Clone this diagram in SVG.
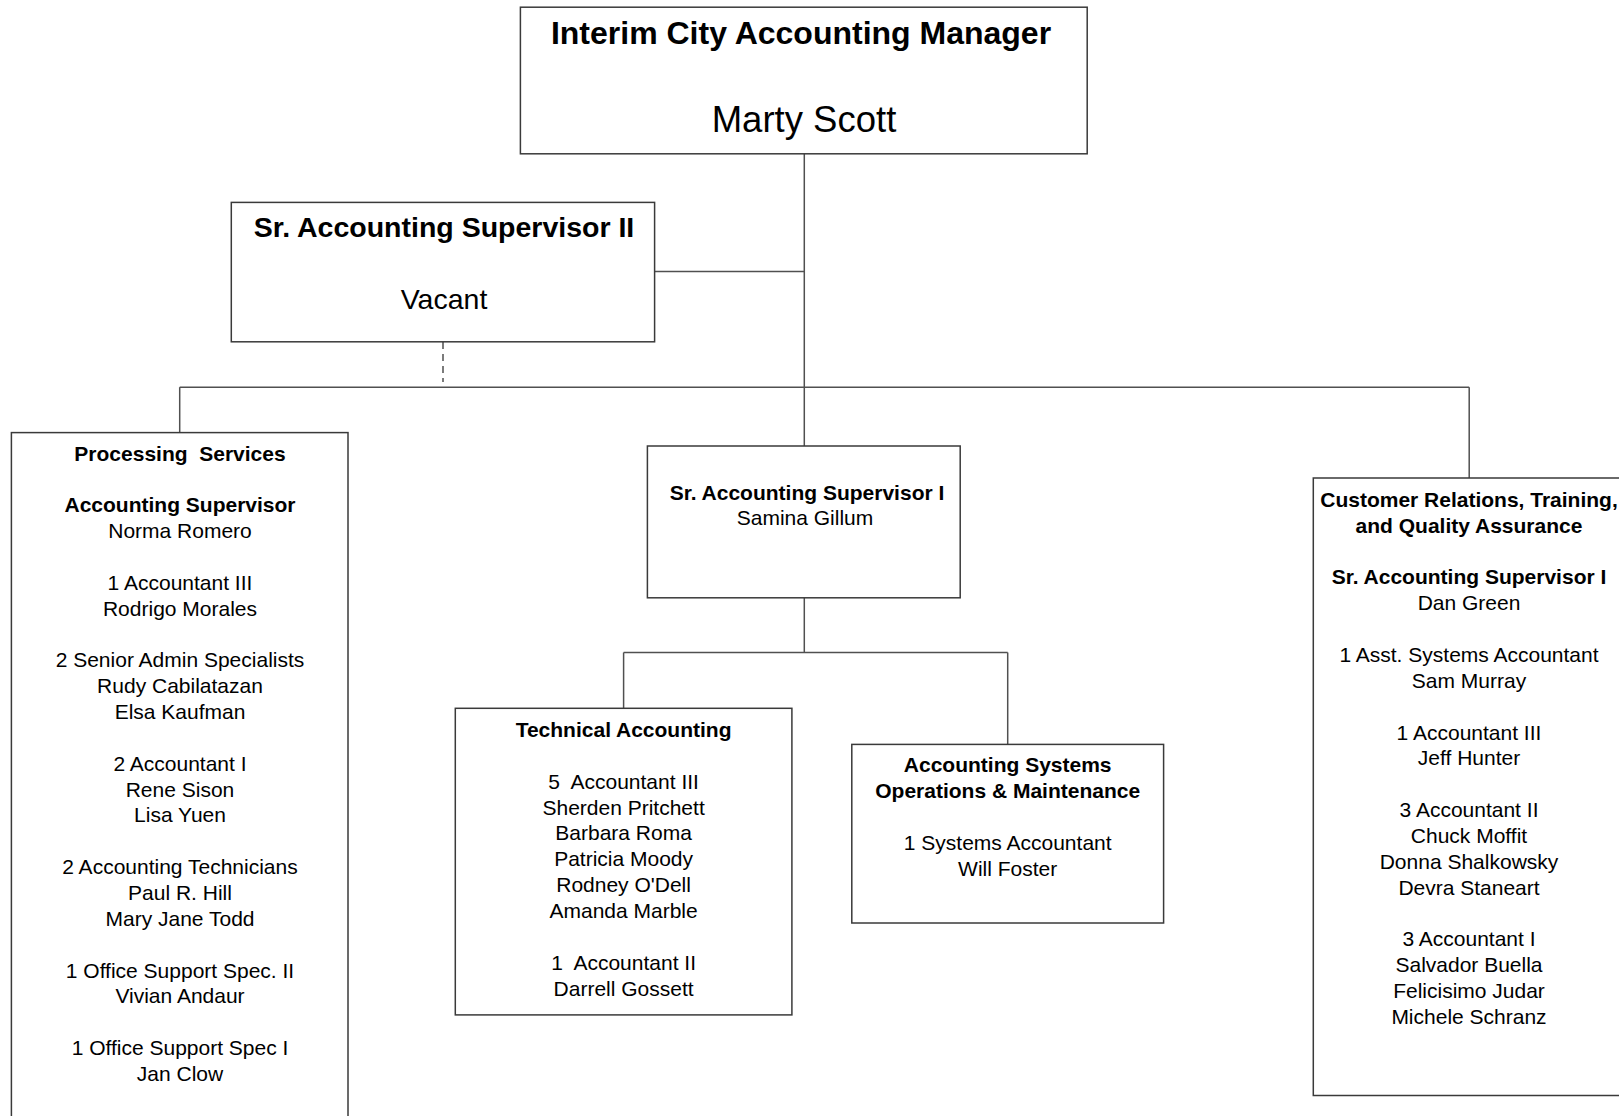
<svg xmlns="http://www.w3.org/2000/svg" width="1619" height="1116" viewBox="0 0 1619 1116">
<style>
.box{fill:#fff;stroke:#3a3a3a;stroke-width:1.5}
.con{fill:none;stroke:#505050;stroke-width:1.5}
.dash{stroke-dasharray:7 5}
text{font-family:"Liberation Sans",Arial,sans-serif;fill:#000;text-anchor:middle}
.s{font-size:21px}
.b{font-weight:bold}
.big{font-size:28.5px}
.huge{font-size:32px;font-weight:bold}
.name{font-size:36.5px}
</style>
<rect width="1619" height="1116" fill="#fff"/>
<g id="connectors">
<line class="con" x1="804.3" y1="153.8" x2="804.3" y2="446"/>
<line class="con" x1="654.6" y1="271.5" x2="804.3" y2="271.5"/>
<line class="con dash" x1="443" y1="342" x2="443" y2="382"/>
<line class="con" x1="179.7" y1="387.2" x2="1469.2" y2="387.2"/>
<line class="con" x1="179.7" y1="387.2" x2="179.7" y2="432.6"/>
<line class="con" x1="1469.2" y1="387.2" x2="1469.2" y2="478"/>
<line class="con" x1="804.3" y1="597.8" x2="804.3" y2="652.5"/>
<line class="con" x1="623.6" y1="652.5" x2="1007.7" y2="652.5"/>
<line class="con" x1="623.6" y1="652.5" x2="623.6" y2="708.3"/>
<line class="con" x1="1007.7" y1="652.5" x2="1007.7" y2="744.4"/>
</g>
<g id="manager">
<rect class="box" x="520.4" y="7.2" width="566.8" height="146.6"/>
<text class="huge" x="801" y="43.5">Interim City Accounting Manager</text>
<text class="name" x="804" y="132">Marty Scott</text>
</g>
<g id="sr-supervisor-ii">
<rect class="box" x="231.3" y="202.4" width="423.3" height="139.4"/>
<text class="big b" x="444" y="237.4">Sr. Accounting Supervisor II</text>
<text class="big" x="444" y="308.6">Vacant</text>
</g>
<g id="processing-services">
<rect class="box" x="11.4" y="432.6" width="336.6" height="700"/>
<text class="s" x="180" y="460.5"><tspan class="b" x="180">Processing&#160; Services</tspan><tspan class="b" x="180" dy="51.7">Accounting Supervisor</tspan><tspan x="180" dy="25.85">Norma Romero</tspan><tspan x="180" dy="51.7">1 Accountant III</tspan><tspan x="180" dy="25.85">Rodrigo Morales</tspan><tspan x="180" dy="51.7">2 Senior Admin Specialists</tspan><tspan x="180" dy="25.85">Rudy Cabilatazan</tspan><tspan x="180" dy="25.85">Elsa Kaufman</tspan><tspan x="180" dy="51.7">2 Accountant I</tspan><tspan x="180" dy="25.85">Rene Sison</tspan><tspan x="180" dy="25.85">Lisa Yuen</tspan><tspan x="180" dy="51.7">2 Accounting Technicians</tspan><tspan x="180" dy="25.85">Paul R. Hill</tspan><tspan x="180" dy="25.85">Mary Jane Todd</tspan><tspan x="180" dy="51.7">1 Office Support Spec. II</tspan><tspan x="180" dy="25.85">Vivian Andaur</tspan><tspan x="180" dy="51.7">1 Office Support Spec I</tspan><tspan x="180" dy="25.85">Jan Clow</tspan></text>
</g>
<g id="sr-supervisor-i">
<rect class="box" x="647.4" y="446" width="312.8" height="151.8"/>
<text class="s b" x="807" y="499.5">Sr. Accounting Supervisor I</text>
<text class="s" x="805" y="525.3">Samina Gillum</text>
</g>
<g id="technical-accounting">
<rect class="box" x="455.3" y="708.3" width="336.6" height="306.6"/>
<text class="s" x="623.6" y="737"><tspan class="b" x="623.6">Technical Accounting</tspan><tspan x="623.6" dy="51.7">5&#160; Accountant III</tspan><tspan x="623.6" dy="25.85">Sherden Pritchett</tspan><tspan x="623.6" dy="25.85">Barbara Roma</tspan><tspan x="623.6" dy="25.85">Patricia Moody</tspan><tspan x="623.6" dy="25.85">Rodney O'Dell</tspan><tspan x="623.6" dy="25.85">Amanda Marble</tspan><tspan x="623.6" dy="51.7">1&#160; Accountant II</tspan><tspan x="623.6" dy="25.85">Darrell Gossett</tspan></text>
</g>
<g id="accounting-systems">
<rect class="box" x="851.8" y="744.4" width="311.8" height="178.6"/>
<text class="s" x="1007.7" y="772.1"><tspan class="b" x="1007.7">Accounting Systems</tspan><tspan class="b" x="1007.7" dy="25.85">Operations &amp; Maintenance</tspan><tspan x="1007.7" dy="51.7">1 Systems Accountant</tspan><tspan x="1007.7" dy="25.85">Will Foster</tspan></text>
</g>
<g id="customer-relations">
<rect class="box" x="1313.3" y="478" width="312" height="617.5"/>
<text class="s" x="1469" y="506.9"><tspan class="b" x="1469">Customer Relations, Training,</tspan><tspan class="b" x="1469" dy="25.85">and Quality Assurance</tspan><tspan class="b" x="1469" dy="51.7">Sr. Accounting Supervisor I</tspan><tspan x="1469" dy="25.85">Dan Green</tspan><tspan x="1469" dy="51.7">1 Asst. Systems Accountant</tspan><tspan x="1469" dy="25.85">Sam Murray</tspan><tspan x="1469" dy="51.7">1 Accountant III</tspan><tspan x="1469" dy="25.85">Jeff Hunter</tspan><tspan x="1469" dy="51.7">3 Accountant II</tspan><tspan x="1469" dy="25.85">Chuck Moffit</tspan><tspan x="1469" dy="25.85">Donna Shalkowsky</tspan><tspan x="1469" dy="25.85">Devra Staneart</tspan><tspan x="1469" dy="51.7">3 Accountant I</tspan><tspan x="1469" dy="25.85">Salvador Buella</tspan><tspan x="1469" dy="25.85">Felicisimo Judar</tspan><tspan x="1469" dy="25.85">Michele Schranz</tspan></text>
</g>
</svg>
